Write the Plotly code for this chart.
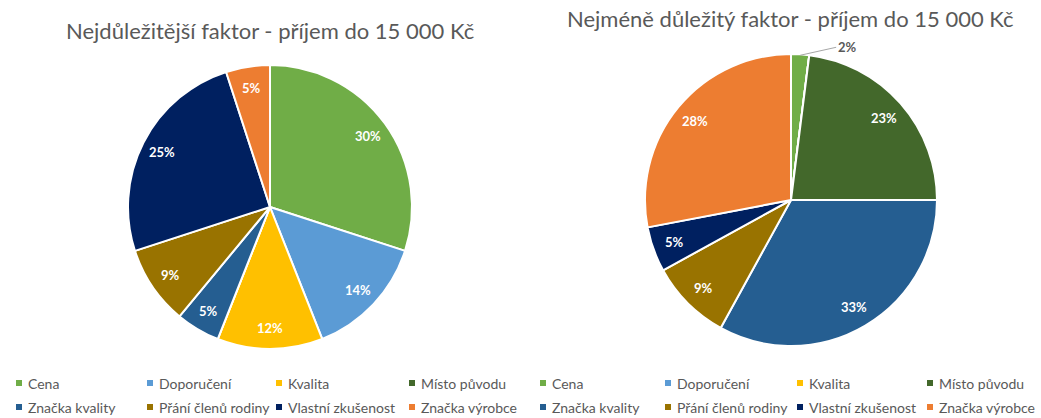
import math
import plotly.graph_objects as go

W, H = 1041, 418

# Categories (legend order) and colours
categories = ["Cena", "Doporučení", "Kvalita", "Místo původu",
              "Značka kvality", "Přání členů rodiny", "Vlastní zkušenost", "Značka výrobce"]
colors = ["#70AD47", "#5B9BD5", "#FFC000", "#43682B",
          "#255E91", "#997300", "#002060", "#ED7D31"]

# Shares in percent
most_important = [30, 14, 12, 0, 5, 9, 25, 5]
least_important = [2, 0, 0, 23, 33, 9, 5, 28]

title_left = "Nejdůležitější faktor - příjem do 15 000 Kč"
title_right = "Nejméně důležitý faktor - příjem do 15 000 Kč"

FONT = "Lato"
GREY = "#595959"
LABEL_R = 0.85  # radial position of the percentage labels (fraction of radius)


def px_x(x):
    return x / W


def px_y(y):
    return 1 - y / H


def pie(values, cx, cy, r):
    return go.Pie(
        labels=categories, values=values, sort=False, direction="clockwise",
        rotation=0, marker=dict(colors=colors, line=dict(color="white", width=2)),
        textinfo="none",
        domain=dict(x=[px_x(cx - r), px_x(cx + r)], y=[px_y(cy + r), px_y(cy - r)]),
        showlegend=False, hoverinfo="label+percent",
    )


def slice_labels(values, cx, cy, r, outside=()):
    """Percentage labels placed at the angular middle of each slice."""
    total = sum(values)
    out = []
    cum = 0.0
    for i, v in enumerate(values):
        if v <= 0:
            continue
        mid = (cum + v / 2) / total * 2 * math.pi
        cum += v
        text = f"<b>{v}%</b>"
        if i in outside:
            # small slice: label outside with a leader line
            ex = cx + r * math.sin(mid)
            ey = cy - r * math.cos(mid)
            out.append(dict(text=text, x=px_x(ex), y=px_y(ey + 1), xref="paper",
                            yref="paper", showarrow=True, arrowhead=0,
                            arrowwidth=1, arrowcolor="#A6A6A6",
                            ax=36, ay=-8, xanchor="left",
                            font=dict(family=FONT, size=13, color=GREY)))
        else:
            lx = cx + LABEL_R * r * math.sin(mid)
            ly = cy - LABEL_R * r * math.cos(mid)
            out.append(dict(text=text, x=px_x(lx), y=px_y(ly), xref="paper",
                            yref="paper", showarrow=False, xanchor="center",
                            yanchor="middle",
                            font=dict(family=FONT, size=13, color="white")))
    return out


LEFT = (270, 207, 142)
RIGHT = (791, 200, 146)

fig = go.Figure()
fig.add_trace(pie(most_important, *LEFT))
fig.add_trace(pie(least_important, *RIGHT))

annotations = [
    dict(text=title_left, x=px_x(270), y=px_y(30), xref="paper", yref="paper",
         xanchor="center", yanchor="middle", showarrow=False,
         font=dict(family=FONT, size=22, color=GREY)),
    dict(text=title_right, x=px_x(790), y=px_y(18), xref="paper", yref="paper",
         xanchor="center", yanchor="middle", showarrow=False,
         font=dict(family=FONT, size=22, color=GREY)),
]
annotations += slice_labels(most_important, *LEFT)
annotations += slice_labels(least_important, *RIGHT, outside=(0,))
shapes = []

# Hand-built legends below each pie: 4 columns x 2 rows
legend_cols = {
    "left": [19, 150, 279, 412],
    "right": [543, 668, 800, 930],
}
legend_rows = [383, 407]
for side, cols in legend_cols.items():
    for i, (name, col) in enumerate(zip(categories, colors)):
        x0 = cols[i % 4]
        y0 = legend_rows[i // 4]
        shapes.append(dict(type="rect", xref="paper", yref="paper",
                           x0=px_x(x0 - 3), x1=px_x(x0 + 3),
                           y0=px_y(y0 + 3), y1=px_y(y0 - 3),
                           fillcolor=col, line=dict(width=0)))
        annotations.append(dict(text=name, x=px_x(x0 + 7), y=px_y(y0),
                                xref="paper", yref="paper", xanchor="left",
                                yanchor="middle", showarrow=False,
                                font=dict(family=FONT, size=14, color=GREY)))

fig.update_layout(
    width=W, height=H, margin=dict(l=0, r=0, t=0, b=0),
    paper_bgcolor="white", plot_bgcolor="white",
    annotations=annotations, shapes=shapes,
)

fig.write_html("out.html")
